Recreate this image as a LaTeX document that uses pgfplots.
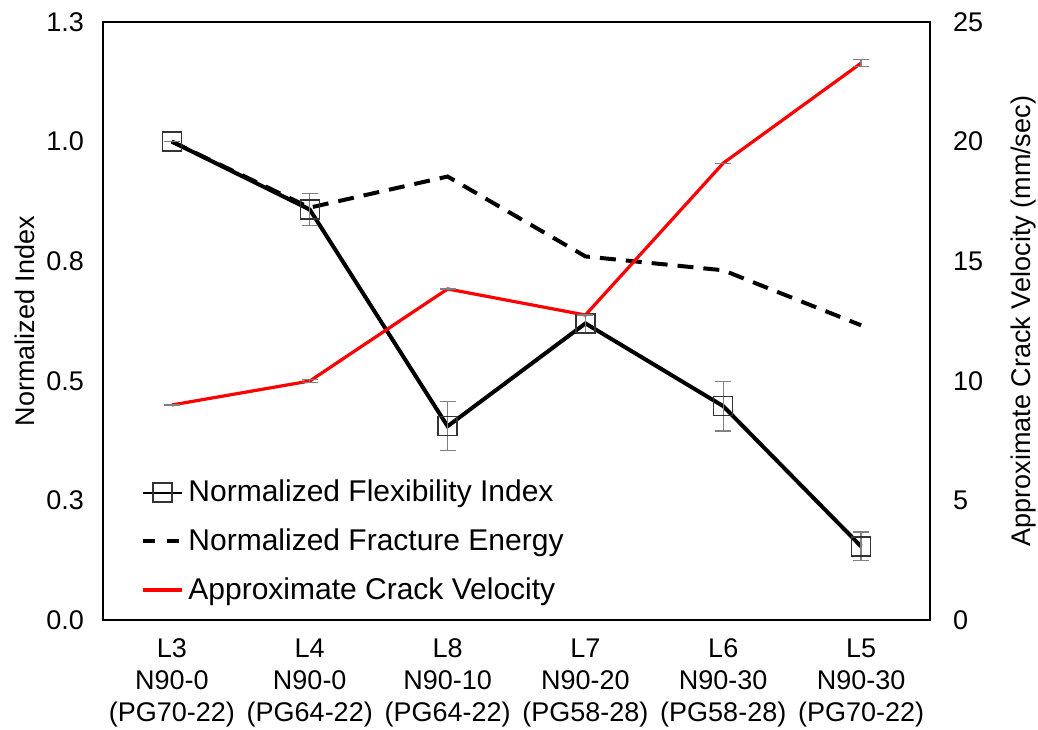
\documentclass[border=0pt]{standalone}
\usepackage{pgfplots}
\pgfplotsset{compat=1.18}
\usepackage{fontspec}
\setmainfont{Liberation Sans}
\begin{document}
\begin{tikzpicture}
\path[use as bounding box] (-51.5pt,-54.5pt) rectangle (467.5pt,310pt);
\pgfplotsset{
  every axis/.append style={
    scale only axis, width=413.5pt, height=299pt,
    xmin=-0.5, xmax=5.5,
    major tick length=0pt,
    tick label style={font=\fontsize{13.5}{16}\selectfont},
    label style={font=\fontsize{13.5}{16}\selectfont},
    axis line style={line width=0.9pt},
  },
}
\begin{axis}[
  at={(0pt,0pt)}, anchor=south west,
  ymin=0, ymax=1.25,
  ytick={0,0.25,0.5,0.75,1.0,1.25},
  yticklabels={0.0,0.3,0.5,0.8,1.0,1.3},
  ytick pos=left,
  xtick={0,1,2,3,4,5},
  xticklabels={{L3\\N90-0\\(PG70-22)},{L4\\N90-0\\(PG64-22)},{L8\\N90-10\\(PG64-22)},{L7\\N90-20\\(PG58-28)},{L6\\N90-30\\(PG58-28)},{L5\\N90-30\\(PG70-22)}},
  xticklabel style={align=center, yshift=-6pt},
  xtick pos=bottom,
  yticklabel style={xshift=-6pt},
  ylabel={Normalized Index},
  ylabel style={yshift=-1pt},
]
\addplot[black, line width=2pt, dash pattern=on 8pt off 5pt] coordinates {
  (0,1.0) (1,0.862) (2,0.927) (3,0.760) (4,0.731) (5,0.616)
};
\addplot[black, line width=2pt, mark=square, mark size=4.75pt,
  mark options={solid, line width=0.7pt, draw=black!80, fill=none},
  error bars/.cd, y dir=both, y explicit,
  error bar style={gray, line width=0.6pt},
  error mark options={rotate=90, gray, mark size=4pt, line width=0.6pt}]
  coordinates {
  (0,1.0) +- (0,0)
  (1,0.858) +- (0,0.033)
  (2,0.405) +- (0,0.051)
  (3,0.620) +- (0,0.02)
  (4,0.447) +- (0,0.052)
  (5,0.154) +- (0,0.03)
};
\end{axis}
\begin{axis}[
  at={(0pt,0pt)}, anchor=south west,
  ymin=0, ymax=25,
  ytick={0,5,10,15,20,25},
  yticklabels={0,5,10,15,20,25},
  axis y line*=right,
  axis x line=none,
  yticklabel style={xshift=8pt},
  ylabel={Approximate Crack Velocity (mm/sec)},
  ylabel style={yshift=-7pt},
  legend style={at={(0.045,0.022)}, anchor=south west, draw=none, fill=none,
    font=\fontsize{15}{18}\selectfont, row sep=8pt, inner sep=0pt,
    nodes={inner sep=2pt}},
  legend cell align=left,
  legend image code/.code={\draw[mark repeat=2, mark phase=2, #1] plot coordinates {(0cm,0cm) (0.35cm,0cm) (0.7cm,0cm)};},
]
\addlegendimage{black, line width=1pt, mark=square, mark size=4.75pt, mark options={solid, line width=0.7pt, draw=black!80}}
\addlegendentry{Normalized Flexibility Index}
\addlegendimage{black, line width=2pt, dash pattern=on 6pt off 6pt}
\addlegendentry{Normalized Fracture Energy}
\addplot[red, line width=1.6pt,
  error bars/.cd, y dir=both, y explicit,
  error bar style={gray, line width=0.6pt},
  error mark options={rotate=90, gray, mark size=4pt, line width=0.6pt}]
  coordinates {
  (0,8.99) +- (0,0)
  (1,9.99) +- (0,0.05)
  (2,13.84) +- (0,0)
  (3,12.75) +- (0,0)
  (4,19.1) +- (0,0)
  (5,23.28) +- (0,0.15)
};
\addlegendentry{Approximate Crack Velocity}
\end{axis}
\end{tikzpicture}
\end{document}
